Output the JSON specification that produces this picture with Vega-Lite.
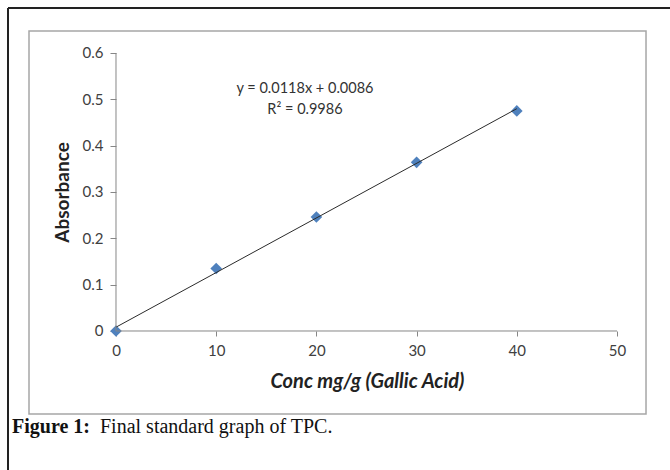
{
  "$schema": "https://vega.github.io/schema/vega-lite/v6.json",
  "width": 662,
  "height": 462,
  "autosize": {"type": "none"},
  "padding": {"left": 8, "top": 8, "right": 0, "bottom": 0},
  "background": "white",
  "config": {"view": {"stroke": null}},
  "layer": [
    {
      "data": {"values": [
        {"x": 0, "y": 0},
        {"x": 10, "y": 0.135},
        {"x": 20, "y": 0.246},
        {"x": 30, "y": 0.364},
        {"x": 40, "y": 0.475}
      ]},
      "layer": [
        {
          "mark": {"type": "point", "shape": "diamond", "filled": true, "fill": "#4f81bd", "strokeWidth": 0, "size": 135, "opacity": 1},
          "encoding": {
            "x": {"field": "x", "type": "quantitative",
              "scale": {"domain": [-10.778, 55.289], "nice": false, "zero": false},
              "axis": {"orient": "bottom", "offset": -139, "domain": false, "grid": false,
                "values": [0, 10, 20, 30, 40, 50], "tickSize": 5, "tickColor": "#868686",
                "labelFont": "Lato", "labelFontSize": 15, "labelColor": "#404040", "labelPadding": 7,
                "labelFlush": false, "labelOverlap": false,
                "title": "Conc mg/g (Gallic Acid)", "titleFont": "Lato", "titleFontSize": 20,
                "titleFontWeight": "bold", "titleFontStyle": "italic", "titleColor": "#222222",
                "titleX": 359, "titleY": 50, "titleBaseline": "middle", "titleAlign": "center"}},
            "y": {"field": "y", "type": "quantitative",
              "scale": {"domain": [-0.3, 0.6971], "nice": false, "zero": false},
              "axis": {"orient": "left", "offset": -108, "domain": false, "grid": false,
                "values": [0, 0.1, 0.2, 0.3, 0.4, 0.5, 0.6], "format": "~g", "tickSize": 6, "tickColor": "#868686",
                "labelFont": "Lato", "labelFontSize": 15, "labelColor": "#404040", "labelPadding": 7,
                "labelFlush": false, "labelOverlap": false,
                "title": "Absorbance", "titleFont": "Lato", "titleFontSize": 19,
                "titleFontWeight": "bold", "titleColor": "#222222",
                "titleX": -54, "titleY": 184, "titleBaseline": "middle", "titleAlign": "center", "titleAngle": 270}}
          }
        },
        {
          "transform": [{"regression": "y", "on": "x", "extent": [0, 40]}],
          "mark": {"type": "line", "stroke": "#2b2b2b", "strokeWidth": 1},
          "encoding": {
            "x": {"field": "x", "type": "quantitative"},
            "y": {"field": "y", "type": "quantitative"}
          }
        }
      ]
    },
    {
      "data": {"values": [{}]},
      "layer": [
        {
          "mark": {"type": "rect", "fill": null, "stroke": "#a6a6a6", "strokeWidth": 1.5},
          "encoding": {
            "x": {"datum": -8.682, "type": "quantitative"},
            "x2": {"datum": 52.895},
            "y": {"datum": 0.6475, "type": "quantitative"},
            "y2": {"datum": -0.1792}
          }
        },
        {
          "mark": {"type": "rule", "stroke": "#222222", "strokeWidth": 2},
          "encoding": {
            "x": {"datum": -10.778, "type": "quantitative"},
            "x2": {"datum": 55.289},
            "y": {"datum": 0.6971, "type": "quantitative"}
          }
        },
        {
          "mark": {"type": "rule", "stroke": "#222222", "strokeWidth": 2},
          "encoding": {
            "x": {"datum": -10.778, "type": "quantitative"},
            "y": {"datum": 0.6971, "type": "quantitative"},
            "y2": {"datum": -0.3}
          }
        },
        {
          "mark": {"type": "rule", "stroke": "#868686", "strokeWidth": 1},
          "encoding": {
            "x": {"datum": 0, "type": "quantitative"},
            "x2": {"datum": 50},
            "y": {"datum": 0, "type": "quantitative"}
          }
        },
        {
          "mark": {"type": "rule", "stroke": "#868686", "strokeWidth": 1},
          "encoding": {
            "x": {"datum": 0, "type": "quantitative"},
            "y": {"datum": 0, "type": "quantitative"},
            "y2": {"datum": 0.6}
          }
        },
        {
          "mark": {"type": "text", "font": "Lato", "fontSize": 14.5, "fill": "#333333", "align": "center", "baseline": "middle", "lineHeight": 21},
          "encoding": {
            "x": {"datum": 18.86, "type": "quantitative"},
            "y": {"datum": 0.522, "type": "quantitative"},
            "text": {"value": ["y = 0.0118x + 0.0086", "R² = 0.9986"]}
          }
        },
        {
          "mark": {"type": "text", "font": "Liberation Serif", "fontSize": 20, "fontWeight": "bold", "fill": "#111111", "align": "left", "baseline": "alphabetic"},
          "encoding": {
            "x": {"datum": -10.379, "type": "quantitative"},
            "y": {"datum": -0.2201, "type": "quantitative"},
            "text": {"value": "Figure 1:"}
          }
        },
        {
          "mark": {"type": "text", "font": "Liberation Serif", "fontSize": 20, "fill": "#111111", "align": "left", "baseline": "alphabetic"},
          "encoding": {
            "x": {"datum": -1.597, "type": "quantitative"},
            "y": {"datum": -0.2201, "type": "quantitative"},
            "text": {"value": "Final standard graph of TPC."}
          }
        }
      ]
    }
  ]
}
